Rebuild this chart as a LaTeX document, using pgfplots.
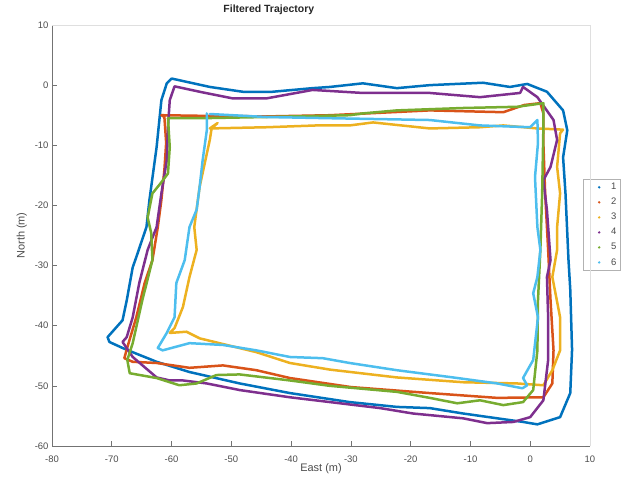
\documentclass[border=0pt]{standalone}
\usepackage{pgfplots}
\pgfplotsset{compat=1.18}
\usepackage{fontspec}
\setmainfont{Liberation Sans}
\definecolor{c1}{HTML}{0072BD}
\definecolor{c2}{HTML}{D95319}
\definecolor{c3}{HTML}{EDB120}
\definecolor{c4}{HTML}{7E2F8E}
\definecolor{c5}{HTML}{77AC30}
\definecolor{c6}{HTML}{4DBEEE}
\definecolor{axgray}{gray}{0.45}
\definecolor{txtgray}{gray}{0.3}
\begin{document}
\begin{tikzpicture}
\useasboundingbox (-52bp,-37bp) rectangle (572bp,446bp);
\begin{axis}[name=ax, at={(0,0)}, anchor=south west,
  scale only axis, width=538bp, height=421bp,
  xmin=-80, xmax=10, ymin=-60, ymax=10,
  xtick={-80,-70,...,10}, ytick={-60,-50,...,10},
  axis x line*=bottom, axis y line*=left,
  axis line style={draw=axgray, line width=0.8bp, -},
  tick style={draw=axgray, line width=0.6bp},
  tick align=inside, major tick length=5bp,
  /pgf/number format/assume math mode=true,
  ticklabel style={font=\fontsize{9.5}{11}\selectfont, text=txtgray},
  xticklabel style={yshift=-6bp},
  xlabel={East (m)}, ylabel={North (m)},
  label style={font=\fontsize{11}{13}\selectfont, text=txtgray},
  xlabel style={at={(axis description cs:0.5,-0.053)}, anchor=center},
  ylabel style={at={(axis description cs:-0.056,0.5)}, anchor=center},
  title={Filtered Trajectory},
  title style={at={(axis description cs:0.403,1.0214)}, anchor=center, font=\bfseries\fontsize{10.5}{12}\selectfont, text=black!85},
  every axis plot/.append style={line width=2.5bp, line join=round, line cap=round},
  legend image code/.code={\path[draw=none,fill=none] (0bp,-2bp) rectangle (18bp,2bp); \fill[draw=none] (14bp,0bp) circle (1.3bp);},
  legend style={at={(axis description cs:0.987,0.634)}, anchor=north west,
    draw=gray!60, fill=white, font=\fontsize{9.5}{11}\selectfont, text=txtgray,
    row sep=3bp, inner sep=2bp, /tikz/every odd column/.append style={column sep=6bp}},
  legend cell align=left,
]
\addplot[c1] coordinates {(-60.0,1.1) (-60.8,0.3) (-61.7,-2.5) (-62.5,-10.3) (-63.7,-19.1) (-64.2,-23.6) (-65.9,-28.6) (-66.5,-30.3) (-67.5,-35.8) (-68.2,-39.1) (-70.7,-41.9) (-70.4,-42.7) (-68.2,-43.7) (-66.5,-44.4) (-62.5,-46) (-57,-47.7) (-48.6,-49.6) (-40.2,-51.2) (-30.2,-52.7) (-22.3,-53.5) (-16.8,-53.7) (-11.2,-54.6) (-5.5,-55.4) (-1.2,-56) (1.2,-56.4) (5,-55.2) (6.7,-51.2) (7,-44) (6.7,-34) (6.4,-29) (5.9,-18) (5.5,-12) (6.2,-7.5) (5.5,-4.2) (2.8,-1.1) (-0.5,0.2) (-3.4,-0.3) (-7.9,0.4) (-16.8,0) (-22.3,-0.5) (-28,0.3) (-33.5,-0.3) (-36.4,-0.5) (-43.1,-1.1) (-48.1,-1.1) (-53.6,-0.3) (-60,1.1)};
\addlegendentry{1}
\addplot[c2] coordinates {(-61.7,-5.0) (-61.2,-5.3) (-60.9,-9.6) (-61.2,-14.1) (-61.7,-19.1) (-62.3,-23.6) (-63.2,-29.1) (-64.5,-32.9) (-65.9,-38.6) (-67.4,-43.6) (-67.9,-45.4) (-66.5,-46) (-62.5,-46.2) (-57,-47) (-51.4,-46.6) (-45.8,-47.4) (-40.2,-48.7) (-30,-50.2) (-16.8,-51.2) (-5.5,-52) (2.2,-51.9) (3.7,-49.6) (3.9,-44.1) (3.4,-35.8) (3,-27.4) (2.5,-18) (2.2,-9.6) (2.2,-4.7) (1.7,-3) (-1,-3.3) (-4.5,-4.5) (-16.8,-4.2) (-33.5,-5) (-44,-5.2) (-55,-5.1) (-61.7,-5.0)};
\addlegendentry{2}
\addplot[c3] coordinates {(-52.3,-6.3) (-53.3,-7.2) (-53.6,-9.1) (-55.3,-16.9) (-56.2,-23.6) (-55.8,-27.4) (-57,-31.9) (-58.1,-36.9) (-59.5,-40.4) (-60.3,-41.2) (-57.5,-41) (-55.3,-42.1) (-45.8,-44.4) (-40.2,-46.2) (-33.5,-47.3) (-22.3,-48.6) (-11.2,-49.4) (-2.2,-49.6) (2.2,-49.9) (3.7,-47.4) (5,-44.1) (5,-38.6) (3.7,-31.9) (4.5,-27.4) (4.5,-23.6) (5,-18) (4.5,-13.6) (5,-8) (5.5,-7.4) (1.2,-7.2) (-4.5,-6.7) (-8.4,-7) (-16.8,-7.2) (-26.3,-6.2) (-30.2,-6.7) (-35.7,-6.7) (-44.1,-7) (-53.6,-7.2) (-52.3,-6.3)};
\addlegendentry{3}
\addplot[c4] coordinates {(-1.2,-0.3) (1.2,-2) (3.9,-5.8) (4.5,-9.1) (3.4,-13.6) (2.2,-15.8) (2.8,-20.8) (3.4,-29.1) (2.8,-31.9) (3,-38.6) (3,-45.7) (2.2,-52.4) (0,-55.2) (-2.8,-56) (-7.2,-56.2) (-11.2,-55.4) (-19.6,-54.6) (-25.1,-53.7) (-33.5,-52.7) (-40.2,-51.9) (-48.6,-50.7) (-54.1,-49.6) (-58.1,-49.1) (-60.3,-49.1) (-62.5,-48.6) (-66.5,-45.2) (-68.2,-42.7) (-67.5,-41.9) (-66.5,-38.6) (-65.4,-32.9) (-64,-27.4) (-62.5,-23.6) (-61.7,-18) (-60.8,-12.5) (-60.6,-7) (-60.3,-2.5) (-59.5,-0.2) (-55.3,-1.1) (-49.8,-2.2) (-44.1,-2.2) (-36.4,-0.8) (-28,-1.3) (-16.8,-1.3) (-8.4,-2) (-1.7,-1.3) (-1.2,-0.3)};
\addlegendentry{4}
\addplot[c5] coordinates {(-60.6,-5.5) (-60.3,-10.3) (-60.6,-14.7) (-61.9,-16.4) (-63.2,-18) (-64,-22) (-63.4,-24.6) (-63.2,-29.1) (-64.9,-35.8) (-66.5,-42.9) (-67.4,-45.7) (-67,-47.9) (-62.5,-48.7) (-58.7,-49.9) (-55.8,-49.6) (-52.5,-48.2) (-48.6,-48.1) (-40.2,-49.1) (-33.5,-50) (-22.3,-51) (-16.8,-52) (-12.2,-52.9) (-8.4,-52.4) (-4.5,-53.2) (-1.2,-52.7) (0.5,-50.7) (1.2,-44.1) (1.3,-35.8) (1.7,-27.4) (2,-18) (2.2,-7) (2.2,-3) (-2.2,-3.6) (-11.2,-3.8) (-22.3,-4.2) (-28,-4.7) (-30.2,-5) (-44.1,-5.3) (-55.3,-5.5) (-60.6,-5.5)};
\addlegendentry{5}
\addplot[c6] coordinates {(-54.1,-4.7) (-54.1,-6.3) (-54.1,-7.5) (-54.8,-12.5) (-55.3,-16.9) (-55.8,-20.7) (-57,-23.6) (-57.8,-29.1) (-59.2,-32.9) (-59.5,-38.6) (-60.8,-41.2) (-62.3,-43.7) (-61.5,-44.1) (-57,-42.9) (-51.4,-43.2) (-45.8,-44.1) (-40.2,-45.2) (-34.7,-45.4) (-30.2,-46.2) (-22.3,-47.4) (-12.9,-48.6) (-5.5,-49.6) (-1.3,-50.4) (-0.5,-49.9) (-1.2,-48.7) (0.5,-45.7) (1.3,-38.6) (0.5,-34.6) (1.2,-31.9) (1.7,-27.4) (1.2,-23.6) (0.8,-15.3) (1.3,-9.6) (1.2,-5.8) (0,-7) (-8.4,-6.7) (-16.8,-5.8) (-22.3,-5.7) (-33.5,-5.5) (-44.1,-5.3) (-53.6,-4.8)};
\addlegendentry{6}
\end{axis}
\draw[gray!25, line width=0.8bp] (ax.south east) -- (ax.north east) -- (ax.north west);
\end{tikzpicture}
\end{document}
